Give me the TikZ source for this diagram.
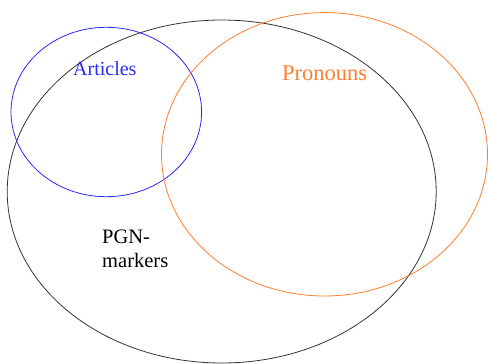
\documentclass[tikz,border=0pt]{standalone}
\usepackage{fontspec}
\setmainfont{Liberation Serif}
\usetikzlibrary{shapes.geometric}
\definecolor{setblue}{RGB}{40,40,255}
\definecolor{setorange}{RGB}{255,125,45}
\tikzset{set/.style={ellipse, draw, line width=0.8pt, inner sep=0pt},
	setlabel/.style={inner sep=0pt, anchor=base west}}

\begin{document}
\begin{tikzpicture}[x=1pt,y=-1pt]
			\useasboundingbox (0,0) rectangle (488,364);
			\node (pgn) [set, draw=black!80, minimum width=429pt, minimum height=343pt] at (221.7,191.5) {};
			\node (art) [set, draw=setblue, minimum width=190.6pt, minimum height=169.4pt] at (106.3,112) {};
			\node (pro) [set, draw=setorange, minimum width=326pt, minimum height=283.4pt] at (324.5,154.3) {};
			%
			\node (artlabel) [setlabel, text=setblue, font=\rmfamily\fontsize{20}{24}\selectfont] at (73,75) {Articles};
			\node (prolabel) [setlabel, text=setorange, font=\rmfamily\fontsize{22.5}{27}\selectfont] at (282,80) {Pronouns};
			\node (pgnlabel) [setlabel, align=left, font=\rmfamily\fontsize{20.5}{24}\selectfont] at (102,267) {PGN-\\markers};
		\end{tikzpicture}
\end{document}
